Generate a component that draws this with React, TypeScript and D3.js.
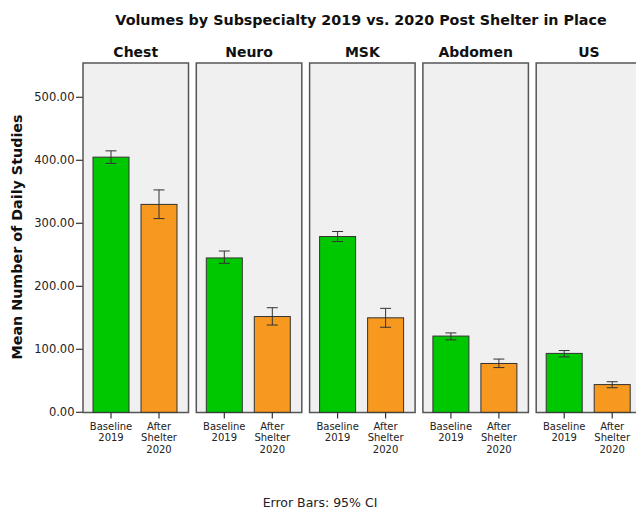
import React from "react";
import * as d3 from "d3";

const specialties = ["Chest", "Neuro", "MSK", "Abdomen", "US"];
const periods = ["Baseline 2019", "After Shelter 2020"];
const periodLabels = [["Baseline", "2019"], ["After", "Shelter", "2020"]];
const baselineMean = [405, 245, 279, 121, 93.5];
const baselineLow = [395, 236.5, 271, 115, 88];
const baselineHigh = [415, 256, 287, 126, 98];
const afterMean = [330, 152, 150, 77.5, 44];
const afterLow = [307.5, 138.5, 135, 71, 39];
const afterHigh = [353, 166, 165, 84.5, 48.5];
const yTicks = [0, 100, 200, 300, 400, 500];
const colors = ["#00c800", "#f7981f"];
const title = "Volumes by Subspecialty 2019 vs. 2020 Post Shelter in Place";
const yTitle = "Mean Number of Daily Studies";
const note = "Error Bars: 95% CI";

const W = 636, H = 510;
const panelTop = 63, panelBottom = 412.5;
const panelW = 105.5, panelStep = 113.3, firstLeft = 83;

export default function App() {
  const y = d3.scaleLinear().domain([0, 500]).range([412.3, 97.3]);
  const panelX = d3.scaleBand<string>().domain(specialties)
    .range([firstLeft, firstLeft + panelStep * specialties.length]).paddingInner(0).paddingOuter(0);
  const font = "'DejaVu Sans', sans-serif";
  const series = [
    { mean: baselineMean, low: baselineLow, high: baselineHigh },
    { mean: afterMean, low: afterLow, high: afterHigh },
  ];
  return (
    <svg width={W} height={H} style={{ position: "absolute", left: 0, top: 0, background: "#fff" }} fontFamily={font}>
      <text x={361} y={25} textAnchor="middle" fontSize={14.3} fontWeight="bold" fill="#111">{title}</text>
      <text transform={`translate(22,${237}) rotate(-90)`} textAnchor="middle" fontSize={14.3} fontWeight="bold" fill="#111">{yTitle}</text>
      {yTicks.map(t => (
        <g key={t}>
          <line x1={76} x2={83} y1={y(t)} y2={y(t)} stroke="#333" strokeWidth={1.2} />
          <text x={74.5} y={y(t)} dy="0.36em" textAnchor="end" fontSize={11.5} fill="#222">{t.toFixed(2)}</text>
        </g>
      ))}
      {specialties.map((s, i) => {
        const left = panelX(s)!;
        const inner = d3.scaleBand<string>().domain(periods).range([left + 10, left + 94]).paddingInner(0.25).paddingOuter(0);
        return (
          <g key={s}>
            <text x={left + panelW / 2} y={57} textAnchor="middle" fontSize={14} fontWeight="bold" fill="#111">{s}</text>
            <rect x={left} y={panelTop} width={panelW} height={panelBottom - panelTop} fill="#f0f0f0" stroke="#555" strokeWidth={1.5} />
            {periods.map((p, j) => {
              const bx = inner(p)!;
              const bw = inner.bandwidth();
              const cx = bx + bw / 2;
              const sr = series[j];
              return (
                <g key={p}>
                  <rect x={bx} y={y(sr.mean[i])} width={bw} height={y(0) - y(sr.mean[i])} fill={colors[j]} stroke="#333" strokeWidth={1} />
                  <line x1={cx} x2={cx} y1={y(sr.low[i])} y2={y(sr.high[i])} stroke="#333" strokeWidth={1} />
                  <line x1={cx - 5.5} x2={cx + 5.5} y1={y(sr.low[i])} y2={y(sr.low[i])} stroke="#333" strokeWidth={1} />
                  <line x1={cx - 5.5} x2={cx + 5.5} y1={y(sr.high[i])} y2={y(sr.high[i])} stroke="#333" strokeWidth={1} />
                  <line x1={cx} x2={cx} y1={panelBottom} y2={418.5} stroke="#333" strokeWidth={1.2} />
                  {periodLabels[j].map((l, k) => (
                    <text key={k} x={cx} y={429.5 + k * 11.7} textAnchor="middle" fontSize={10} fill="#222">{l}</text>
                  ))}
                </g>
              );
            })}
          </g>
        );
      })}
      <text x={320} y={507} textAnchor="middle" fontSize={12.5} fill="#222">{note}</text>
    </svg>
  );
}
